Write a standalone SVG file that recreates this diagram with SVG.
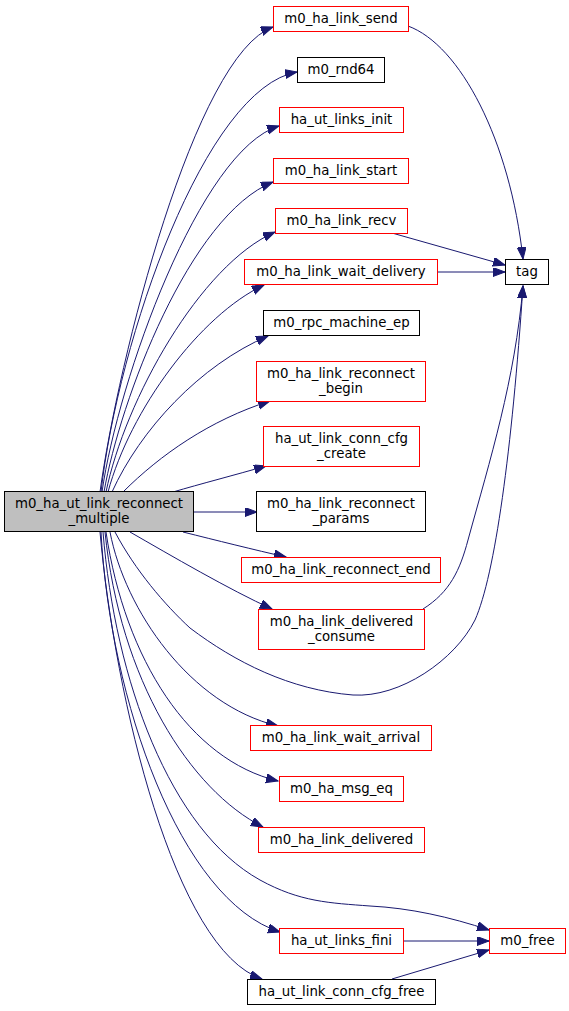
<svg xmlns="http://www.w3.org/2000/svg" width="569" height="1011" viewBox="0 0 569 1011">
<style>
.n rect{fill:#ffffff;stroke:#ff0000;stroke-width:1}
.n.b rect{stroke:#000000}
.n.m rect{fill:#bfbfbf;stroke:#000000}
.n text{font-family:"DejaVu Sans","Liberation Sans",sans-serif;font-size:13.3px;fill:#000000;text-anchor:middle}
#edges path{fill:none;stroke:#191970;stroke-width:1;marker-end:url(#ah)}
</style>
<defs>
<marker id="ah" markerUnits="userSpaceOnUse" markerWidth="13" markerHeight="10" refX="12" refY="4.5" orient="auto">
<path d="M0,0 L12,4.5 L0,9 z" fill="#191970" stroke="#191970" stroke-width="1"/>
</marker>
</defs>
<rect width="569" height="1011" fill="#ffffff"/>
<g id="edges">
<path d="M100,492 C118,360 195,55 273,27"/>
<path d="M101,492 C118,340 205,88 297,72"/>
<path d="M102,492 C118,380 200,150 279,126"/>
<path d="M104,492 C120,400 190,215 273,182"/>
<path d="M106,492 C125,400 200,265 275,232"/>
<path d="M108,492 C130,410 200,315 264,285"/>
<path d="M112,492 C140,430 200,365 268,336"/>
<path d="M123,492 C160,455 210,420 270,401"/>
<path d="M173,492 C200,484 235,475 266,466"/>
<path d="M193,512 L257,512"/>
<path d="M183,532 C215,540 255,550 286,557"/>
<path d="M130,532 C170,555 230,590 272,609"/>
<path d="M115,532 C135,570 165,605 190,628 C235,662 290,690 353,695 C400,698 455,660 475,620 C495,575 512,450 523,286"/>
<path d="M423,609 C450,592 460,570 468,540 C490,460 515,380 523,286"/>
<path d="M110,532 C125,610 190,705 278,726"/>
<path d="M106,532 C125,660 190,760 278,781"/>
<path d="M105,532 C120,680 190,790 263,827"/>
<path d="M103,532 C115,680 170,830 260,880 C300,902 330,903 370,906 C410,908 450,917 489,930"/>
<path d="M101,532 C110,700 180,900 280,932"/>
<path d="M100,532 C115,700 175,950 262,979"/>
<path d="M408,26 C460,45 510,140 523,259"/>
<path d="M392,233 L505,265"/>
<path d="M437,272 L505,272"/>
<path d="M403,941 L489,941"/>
<path d="M392,979 L489,950"/>
</g>
<g id="n_main" class="n m"><rect x="4.5" y="491.5" width="189" height="40"/><text x="99" y="507.5">m0_ha_ut_link_reconnect</text><text x="99" y="522.5">_multiple</text></g>
<g id="n_send" class="n"><rect x="273.5" y="6.5" width="135" height="25"/><text x="341" y="23">m0_ha_link_send</text></g>
<g id="n_rnd64" class="n b"><rect x="297.5" y="57.5" width="87" height="25"/><text x="341" y="74">m0_rnd64</text></g>
<g id="n_links_init" class="n"><rect x="279.5" y="107.5" width="124" height="25"/><text x="341.5" y="124">ha_ut_links_init</text></g>
<g id="n_start" class="n"><rect x="273.5" y="158.5" width="135" height="25"/><text x="341" y="175">m0_ha_link_start</text></g>
<g id="n_recv" class="n"><rect x="275.5" y="208.5" width="132" height="25"/><text x="341.5" y="225">m0_ha_link_recv</text></g>
<g id="n_wait_delivery" class="n"><rect x="244.5" y="259.5" width="193" height="25"/><text x="341" y="276">m0_ha_link_wait_delivery</text></g>
<g id="n_tag" class="n b"><rect x="505.5" y="259.5" width="43" height="25"/><text x="527" y="276">tag</text></g>
<g id="n_rpc_machine_ep" class="n b"><rect x="263.5" y="310.5" width="156" height="25"/><text x="341.5" y="327">m0_rpc_machine_ep</text></g>
<g id="n_reconnect_begin" class="n"><rect x="256.5" y="361.5" width="169" height="40"/><text x="341" y="377.5">m0_ha_link_reconnect</text><text x="341" y="392.5">_begin</text></g>
<g id="n_conn_cfg_create" class="n"><rect x="263.5" y="426.5" width="156" height="40"/><text x="341.5" y="442.5">ha_ut_link_conn_cfg</text><text x="341.5" y="457.5">_create</text></g>
<g id="n_reconnect_params" class="n b"><rect x="256.5" y="491.5" width="169" height="40"/><text x="341" y="507.5">m0_ha_link_reconnect</text><text x="341" y="522.5">_params</text></g>
<g id="n_reconnect_end" class="n"><rect x="241.5" y="557.5" width="199" height="25"/><text x="341" y="574">m0_ha_link_reconnect_end</text></g>
<g id="n_delivered_consume" class="n"><rect x="258.5" y="609.5" width="166" height="40"/><text x="341.5" y="625.5">m0_ha_link_delivered</text><text x="341.5" y="640.5">_consume</text></g>
<g id="n_wait_arrival" class="n"><rect x="250.5" y="725.5" width="181" height="25"/><text x="341" y="742">m0_ha_link_wait_arrival</text></g>
<g id="n_msg_eq" class="n"><rect x="279.5" y="776.5" width="124" height="25"/><text x="341.5" y="793">m0_ha_msg_eq</text></g>
<g id="n_delivered" class="n"><rect x="258.5" y="827.5" width="166" height="25"/><text x="341.5" y="844">m0_ha_link_delivered</text></g>
<g id="n_links_fini" class="n"><rect x="279.5" y="928.5" width="124" height="25"/><text x="341.5" y="945">ha_ut_links_fini</text></g>
<g id="n_free" class="n"><rect x="489.5" y="928.5" width="76" height="25"/><text x="527.5" y="945">m0_free</text></g>
<g id="n_conn_cfg_free" class="n b"><rect x="247.5" y="979.5" width="188" height="25"/><text x="341.5" y="996">ha_ut_link_conn_cfg_free</text></g>
</svg>
